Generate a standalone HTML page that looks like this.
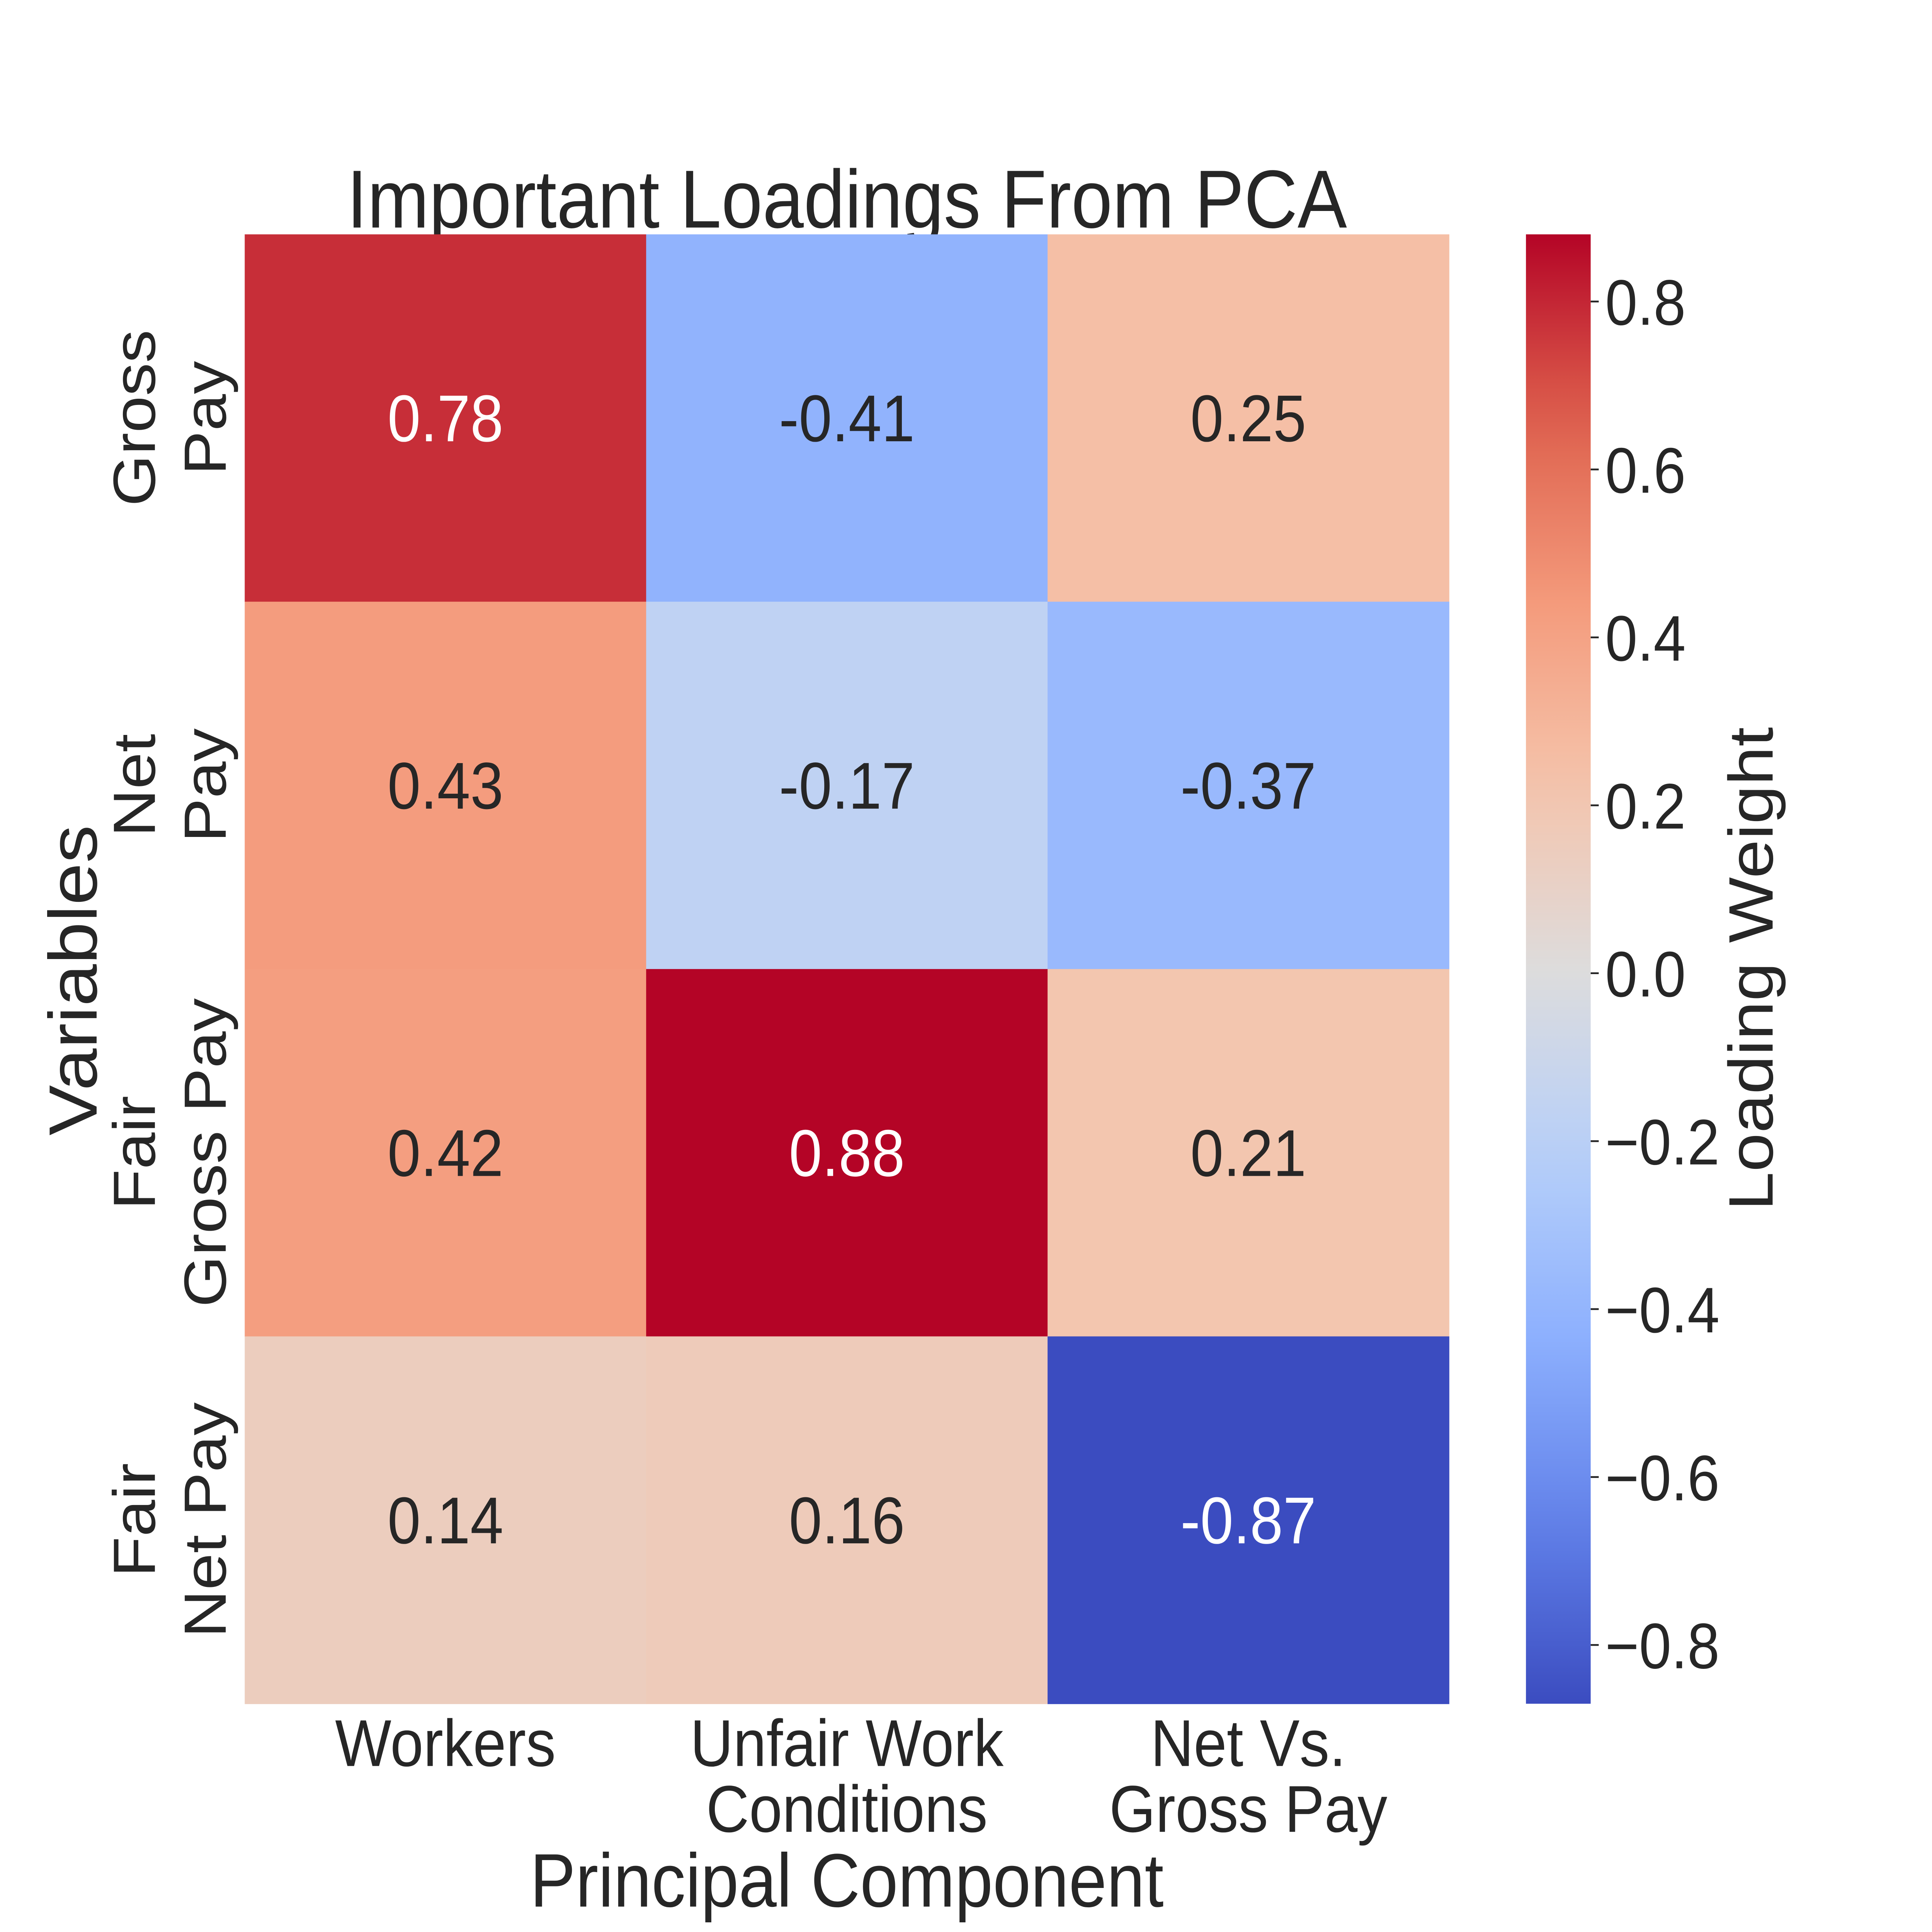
<!DOCTYPE html>
<html><head><meta charset="utf-8"><style>html,body{margin:0;padding:0;background:#fff;overflow:hidden;width:100%;height:100%}svg{display:block;width:100vw;height:100vh}</style></head>
<body>
<svg id="chart" viewBox="0 0 6000 5400" preserveAspectRatio="none" xmlns="http://www.w3.org/2000/svg" font-family="'Liberation Sans', Arial, sans-serif" fill="#262626">
<text x="2630" y="636" font-size="230" text-anchor="middle">Important Loadings From PCA</text>
<g id="cells"></g>
<g id="ylabels"></g>
<g id="xlabels"></g>
<text transform="translate(300,2740) rotate(-90)" font-size="212" text-anchor="middle">Variables</text>
<text x="2630" y="5329" font-size="212" text-anchor="middle">Principal Component</text>
<defs><linearGradient id="cbgrad" x1="0" y1="1" x2="0" y2="0"></linearGradient></defs>
<rect x="4739" y="655" width="201" height="4107" fill="url(#cbgrad)"/>
<g id="cbticks"></g>
<text transform="translate(5505,2708) rotate(-90)" font-size="195" text-anchor="middle">Loading Weight</text>
</svg>
<script>
const rows = [["Gross","Pay"],["Net","Pay"],["Fair","Gross Pay"],["Fair","Net Pay"]];
const cols = [["Workers"],["Unfair Work","Conditions"],["Net Vs.","Gross Pay"]];
const values = [[0.78,-0.41,0.25],[0.43,-0.17,-0.37],[0.42,0.88,0.21],[0.14,0.16,-0.87]];
const cbTicks = [-0.8,-0.6,-0.4,-0.2,0.0,0.2,0.4,0.6,0.8];
const vmin = -0.87, vmax = 0.88;

const NS="http://www.w3.org/2000/svg";
const X0=760,X1=4500,Y0=655,Y1=4762;
const cw=(X1-X0)/cols.length, rh=(Y1-Y0)/rows.length;
const stops=[[0,[59,76,192]],[0.125,[98,130,234]],[0.25,[141,176,254]],[0.375,[184,208,249]],[0.5,[221,220,220]],[0.625,[245,196,172]],[0.75,[244,154,123]],[0.875,[222,96,77]],[1,[180,4,38]]];
function cmap(t){t=Math.max(0,Math.min(1,t));for(let i=1;i<stops.length;i++){if(t<=stops[i][0]){const a=stops[i-1],b=stops[i];const f=(t-a[0])/(b[0]-a[0]);return b[1].map((v,k)=>Math.round(a[1][k]+(v-a[1][k])*f));}}return stops[stops.length-1][1];}
const norm=v=>(v-vmin)/(vmax-vmin);
const cbY=v=>Y1-norm(v)*(Y1-Y0);
function mk(tag,attrs,parent){const e=document.createElementNS(NS,tag);for(const k in attrs)e.setAttribute(k,attrs[k]);parent.appendChild(e);return e;}
const cells=document.getElementById('cells');
values.forEach((row,i)=>row.forEach((v,j)=>{
  const c=cmap(norm(v));
  const r=mk('rect',{x:X0+j*cw,y:Y0+i*rh,width:cw+1,height:rh+1,fill:`rgb(${c})`},cells);
  
  
  const lum=(0.299*c[0]+0.587*c[1]+0.114*c[2]);
  const t=mk('text',{x:X0+(j+0.5)*cw,y:Y0+(i+0.5)*rh+65,'font-size':185,'text-anchor':'middle',fill:lum<140?'#ffffff':'#262626'},cells);
  t.textContent=v.toFixed(2);
  
  
}));
const yl=document.getElementById('ylabels');
rows.forEach((lines,i)=>{
  const cy=Y0+(i+0.5)*rh;
  const g=mk('g',{},yl);
  
  
  lines.forEach((s,k)=>{
    const x=481+k*220;
    const t=mk('text',{transform:`translate(${x},${cy}) rotate(-90)`,'font-size':185,'text-anchor':'middle'},g);
    t.textContent=s;
  });
});
const xl=document.getElementById('xlabels');
cols.forEach((lines,j)=>{
  const cx=X0+(j+0.5)*cw;
  const g=mk('g',{},xl);
  
  
  lines.forEach((s,k)=>{
    const t=mk('text',{x:cx,y:4936+k*184,'font-size':185,'text-anchor':'middle'},g);
    t.textContent=s;
  });
});
const grad=document.getElementById('cbgrad');
for(let k=0;k<=20;k++){const c=cmap(k/20);mk('stop',{offset:k/20,'stop-color':`rgb(${c})`},grad);}
const cbt=document.getElementById('cbticks');
cbTicks.forEach(v=>{
  const y=cbY(v);
  const l=mk('line',{x1:4940,x2:4965,y1:y,y2:y,stroke:'#262626','stroke-width':5},cbt);
  
  
  const t=mk('text',{x:4985,y:y+65,'font-size':180},cbt);
  t.textContent=(v<0?'\u2212':'')+Math.abs(v).toFixed(1);
  
  
});
</script>
</body></html>
